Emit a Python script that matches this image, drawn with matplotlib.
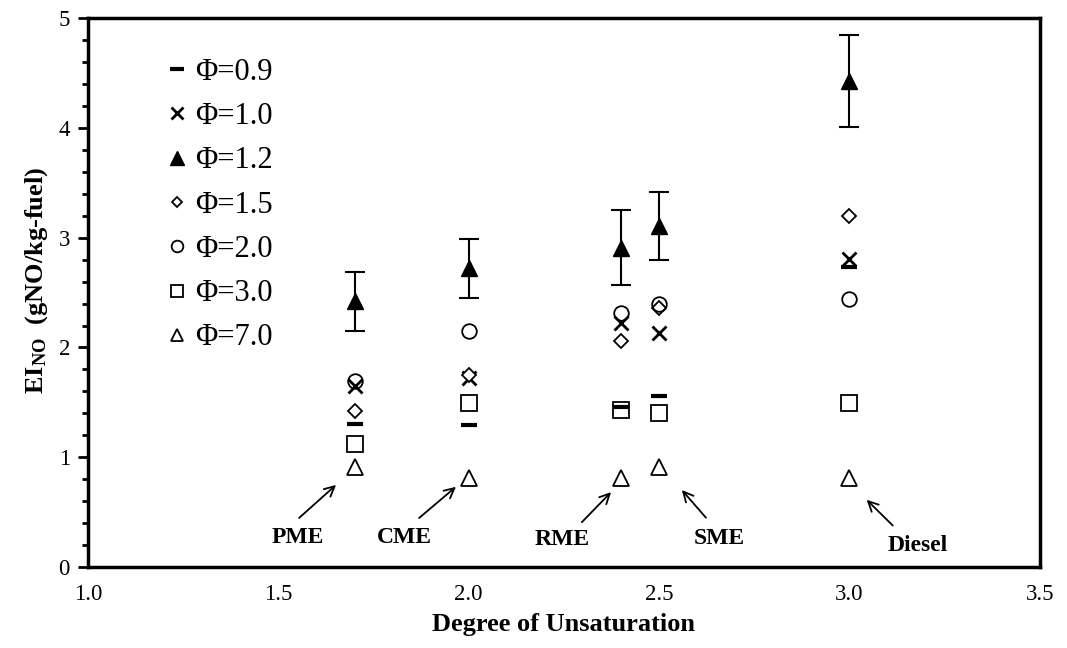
import numpy as np
import matplotlib
matplotlib.use('Agg')
import matplotlib.pyplot as plt
from matplotlib.ticker import MultipleLocator

plt.rcParams['font.family'] = ['Liberation Serif', 'DejaVu Serif']
plt.rcParams['mathtext.fontset'] = 'custom'
plt.rcParams['mathtext.rm'] = 'Liberation Serif'
plt.rcParams['mathtext.bf'] = 'Liberation Serif:bold'

# degree of unsaturation for each fuel
fuels = ['PME', 'CME', 'RME', 'SME', 'Diesel']
dou = [1.7, 2.0, 2.4, 2.5, 3.0]

# EI_NO (gNO/kg-fuel) per equivalence ratio
ei_09 = [1.30, 1.29, 1.46, 1.56, 2.73]
ei_10 = [1.65, 1.72, 2.22, 2.13, 2.81]
ei_12 = [2.42, 2.72, 2.91, 3.11, 4.43]
ei_12_err = [0.27, 0.27, 0.34, 0.31, 0.42]
ei_15 = [1.42, 1.75, 2.06, 2.36, 3.20]
ei_20 = [1.69, 2.15, 2.31, 2.40, 2.44]
ei_30 = [1.12, 1.49, 1.43, 1.40, 1.49]
ei_70 = [0.91, 0.81, 0.81, 0.91, 0.81]

# fuel name positions and the arrows pointing at each fuel's points
label_xy = [(1.551, 0.273), (1.832, 0.273), (2.245, 0.246), (2.657, 0.264), (3.180, 0.20)]
arrow_tail = [(1.549, 0.43), (1.864, 0.43), (2.292, 0.39), (2.628, 0.43), (3.119, 0.36)]
arrow_head = [(1.657, 0.765), (1.972, 0.747), (2.379, 0.70), (2.555, 0.72), (3.04, 0.63)]

fig = plt.figure(figsize=(10.67, 6.48), dpi=100)
ax = fig.add_axes([0.0825, 0.125, 0.892, 0.847])

ax.plot(dou, ei_09, linestyle='none', marker='_', ms=12, mew=3, color='black', label='Φ=0.9')
ax.plot(dou, ei_10, linestyle='none', marker='x', ms=10, mew=2, color='black', label='Φ=1.0')
ax.errorbar(dou, ei_12, yerr=ei_12_err, fmt='none', ecolor='black',
            elinewidth=1.5, capsize=7, capthick=1.5)
ax.plot(dou, ei_12, linestyle='none', marker='^', ms=12, color='black', label='Φ=1.2')
ax.plot(dou, ei_15, linestyle='none', marker='D', ms=7, mfc='white', mec='black', mew=1.3, label='Φ=1.5')
ax.plot(dou, ei_20, linestyle='none', marker='o', ms=10.5, mfc='none', mec='black', mew=1.3, label='Φ=2.0')
ax.plot(dou, ei_30, linestyle='none', marker='s', ms=11, mfc='none', mec='black', mew=1.3, label='Φ=3.0')
ax.plot(dou, ei_70, linestyle='none', marker='^', ms=11, mfc='none', mec='black', mew=1.3, label='Φ=7.0')

for name, txy, tail, head in zip(fuels, label_xy, arrow_tail, arrow_head):
    ax.annotate('', xy=head, xytext=tail,
                arrowprops=dict(arrowstyle='->', color='black', lw=1.3, mutation_scale=18))
    ax.text(txy[0], txy[1], name, fontsize=17, fontweight='bold', ha='center', va='center')

ax.set_xlim(1.0, 3.5)
ax.set_ylim(0, 5)
ax.set_xticks(np.arange(1.0, 3.51, 0.5))
ax.set_xticklabels([f'{v:.1f}' for v in np.arange(1.0, 3.51, 0.5)])
ax.yaxis.set_major_locator(MultipleLocator(1))
ax.yaxis.set_minor_locator(MultipleLocator(0.2))
ax.tick_params(axis='x', length=0, labelsize=16.5, pad=12)
ax.tick_params(axis='y', which='major', direction='out', length=7, width=2, labelsize=16.5, pad=6)
ax.tick_params(axis='y', which='minor', direction='out', length=4, width=2)

for s in ax.spines.values():
    s.set_linewidth(2.5)

ax.set_xlabel('Degree of Unsaturation', fontsize=19, fontweight='bold', labelpad=6)
ax.set_ylabel(r'$\mathbf{EI_{NO}}$  (gNO/kg-fuel)', fontsize=19, fontweight='bold')
ax.yaxis.set_label_coords(-0.040, 0.523)

leg = ax.legend(loc='upper left', bbox_to_anchor=(0.071, 0.95), frameon=False, fontsize=22,
                handlelength=0.6, handletextpad=0.3, labelspacing=0.5, borderaxespad=0,
                numpoints=1)
for h in leg.legend_handles:
    h.set_markersize(h.get_markersize() * 0.8)

fig.savefig('out.png', dpi=100)
